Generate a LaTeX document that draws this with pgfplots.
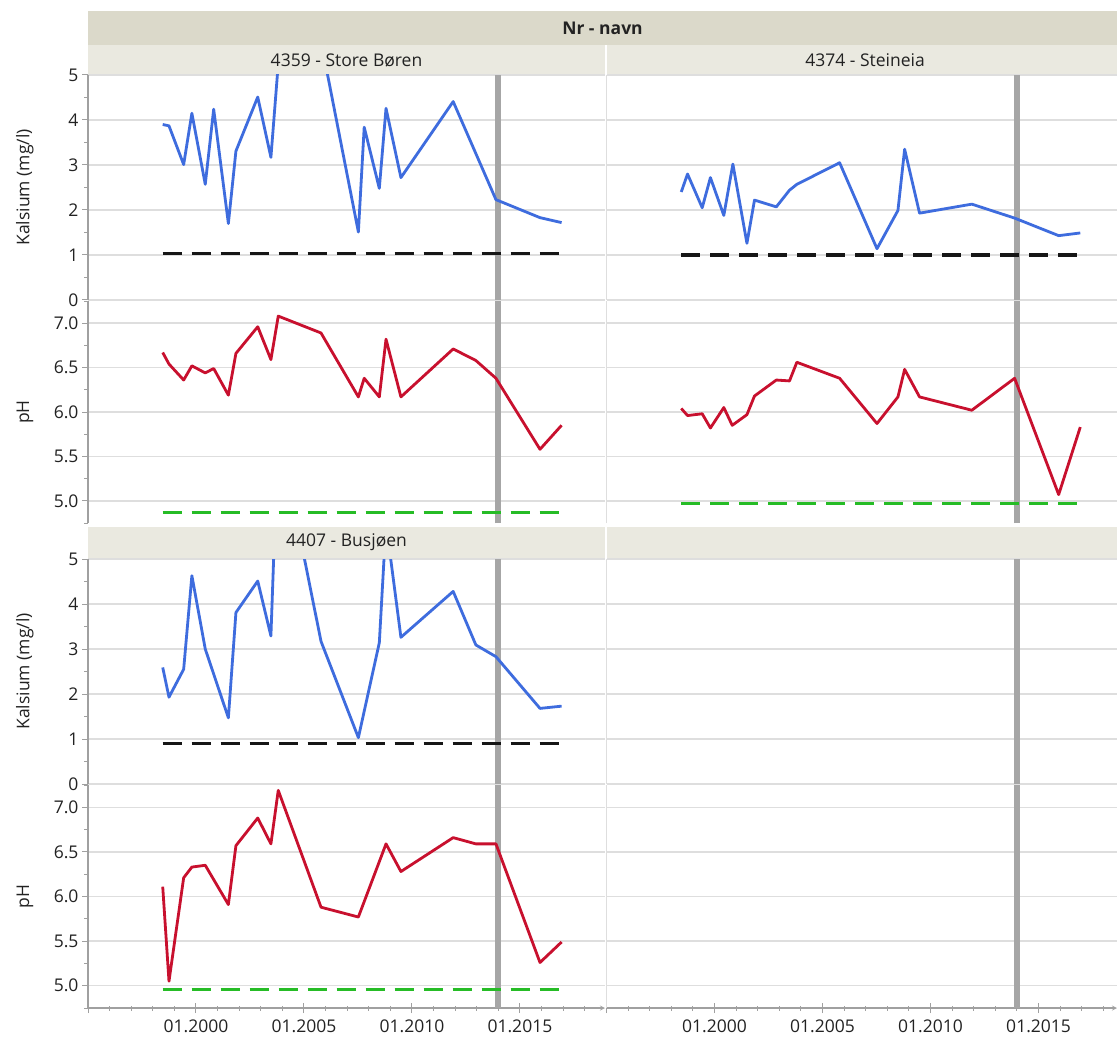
\documentclass[border=0pt]{standalone}
\usepackage{fontspec}
\setmainfont{Open Sans}
\usepackage{pgfplots}
\usepackage{pgfplotstable}
\pgfplotsset{compat=1.18}

\definecolor{cablue}{RGB}{62,108,222}
\definecolor{phred}{RGB}{200,16,46}
\definecolor{limgreen}{RGB}{38,188,38}
\definecolor{limblack}{RGB}{22,22,22}
\definecolor{markgray}{RGB}{166,166,166}
\definecolor{gridgray}{RGB}{222,222,222}
\definecolor{axisgray}{RGB}{160,160,160}
\definecolor{bandA}{RGB}{219,217,202}
\definecolor{bandB}{RGB}{234,233,224}
\definecolor{txt}{RGB}{34,34,34}

% 4359 - Store Boren
\pgfplotstableread{
year ca
1998.46 3.90
1998.75 3.87
1999.43 3.01
1999.81 4.15
2000.43 2.57
2000.82 4.24
2001.50 1.70
2001.85 3.31
2002.86 4.51
2003.47 3.17
2003.81 5.25
2005.79 5.75
2007.52 1.51
2007.79 3.84
2008.49 2.48
2008.80 4.26
2009.49 2.72
2011.91 4.41
2013.89 2.23
2015.93 1.83
2016.93 1.72
}\caA
\pgfplotstableread{
year ph
1998.46 6.67
1998.75 6.54
1999.43 6.36
1999.81 6.52
2000.43 6.44
2000.82 6.49
2001.50 6.19
2001.85 6.66
2002.86 6.96
2003.47 6.59
2003.81 7.08
2005.79 6.89
2007.52 6.17
2007.79 6.38
2008.49 6.17
2008.80 6.82
2009.49 6.17
2011.91 6.71
2012.96 6.58
2013.89 6.38
2015.93 5.58
2016.93 5.85
}\phA
% 4374 - Steineia
\pgfplotstableread{
year ca
1998.46 2.40
1998.75 2.80
1999.43 2.05
1999.81 2.72
2000.43 1.88
2000.85 3.02
2001.50 1.26
2001.85 2.22
2002.86 2.07
2003.47 2.44
2003.81 2.57
2005.79 3.05
2007.52 1.14
2008.49 1.99
2008.80 3.35
2009.49 1.93
2011.91 2.13
2013.89 1.82
2015.93 1.43
2016.93 1.49
}\caB
\pgfplotstableread{
year ph
1998.46 6.04
1998.75 5.96
1999.43 5.98
1999.81 5.82
2000.43 6.05
2000.82 5.85
2001.50 5.97
2001.85 6.18
2002.86 6.36
2003.47 6.35
2003.81 6.56
2005.79 6.38
2007.52 5.87
2008.49 6.17
2008.80 6.48
2009.49 6.17
2011.91 6.02
2013.89 6.38
2015.93 5.07
2016.93 5.83
}\phB
% 4407 - Busjoen
\pgfplotstableread{
year ca
1998.46 2.59
1998.75 1.93
1999.43 2.55
1999.81 4.63
2000.43 3.00
2001.50 1.47
2001.85 3.81
2002.86 4.51
2003.47 3.29
2003.81 7.90
2005.79 3.17
2007.52 1.03
2008.49 3.14
2008.80 5.80
2009.49 3.26
2011.91 4.28
2012.96 3.09
2013.89 2.83
2015.93 1.68
2016.93 1.73
}\caC
\pgfplotstableread{
year ph
1998.46 6.11
1998.75 5.05
1999.43 6.21
1999.81 6.33
2000.43 6.35
2001.50 5.91
2001.85 6.57
2002.86 6.88
2003.47 6.59
2003.81 7.19
2005.79 5.88
2007.52 5.77
2008.80 6.59
2009.49 6.28
2011.91 6.66
2012.96 6.59
2013.89 6.59
2015.93 5.26
2016.93 5.49
}\phC

\pgfplotsset{
  panel/.style={
    scale only axis, xmin=1995, clip=true,
    axis y line=left,
    axis line style={draw=axisgray, line width=1.2pt, -},
    tick align=outside, tick style={draw=axisgray, line width=1pt},
    major tick length=6pt, minor tick length=4pt,
    ymajorgrids, major grid style={draw=gridgray, line width=1.5pt},
    font=\fontsize{17.5}{20}\selectfont,
    tick label style={text=txt, font=\fontsize{17.5}{20}\selectfont},
    label style={text=txt, font=\fontsize{17.5}{20}\selectfont},
    /pgf/number format/assume math mode=true,
    ylabel style={at={(axis description cs:-0.122,0.5)}, anchor=center},
  },
  nox/.style={axis x line=none, xtick=\empty},
  ca/.style={ymin=0, ymax=5, ytick={0,1,2,3,4,5},
    minor ytick={0.5,1.5,2.5,3.5,4.5}, height=225pt},
  ph/.style={ymin=4.75, ymax=7.25, ytick={5,5.5,6,6.5,7},
    minor ytick={4.75,5.25,5.75,6.25,6.75,7.25},
    yticklabel style={/pgf/number format/.cd, fixed, fixed zerofill, precision=1}},
  leftcol/.style={width=517pt, xmax=2018.94},
  rightcol/.style={width=510.5pt, xmax=2018.63, yticklabels={},
    ytick style={/pgfplots/major tick length=0pt, /pgfplots/minor tick length=0pt},
    y axis line style={draw=gridgray, line width=1.5pt}},
  bottomx/.style={axis x line=bottom,
    xtick={1995,2000,2005,2010,2015},
    xticklabels={,01.2000,01.2005,01.2010,01.2015},
    minor xtick={1996,1997,1998,1999,2001,2002,2003,2004,2006,2007,2008,2009,2011,2012,2013,2014,2016,2017,2018},
    xtick style={/pgfplots/major tick length=10pt, /pgfplots/minor tick length=5pt},
    xticklabel style={yshift=-5pt},
    x axis line style={draw=axisgray, line width=1.2pt}},
  caline/.style={cablue, line width=2.8pt, line join=round},
  phline/.style={phred, line width=2.8pt, line join=round},
  calim/.style={limblack, line width=3.5pt, dash pattern=on 19pt off 10pt},
  phlim/.style={limgreen, line width=3.5pt, dash pattern=on 19pt off 10pt},
  mark2014/.style={markgray, line width=6pt},
}

\begin{document}
\begin{tikzpicture}
\useasboundingbox (0,0) rectangle (1117pt,-1049pt);
\fill[white] (0,0) rectangle (1117pt,-1049pt);

% facet header bands
\fill[bandA] (88pt,-11pt) rectangle (1117pt,-45pt);
\fill[bandB] (88pt,-45pt) rectangle (1117pt,-75pt);
\fill[white] (605pt,-45pt) rectangle (607pt,-75pt);
\fill[bandB] (88pt,-527pt) rectangle (1117pt,-558pt);
\fill[white] (605pt,-527pt) rectangle (607pt,-558pt);
\begin{scope}[font=\fontsize{17.5}{20}\selectfont, text=txt]
\node[font=\fontsize{17.5}{20}\selectfont\bfseries] at (602.5pt,-28pt) {Nr - navn};
\node at (346.5pt,-60pt) {4359 - Store Børen};
\node at (865pt,-60pt) {4374 - Steineia};
\node at (346.5pt,-542.5pt) {4407 - Busjøen};
\end{scope}

% ---- row 1, left: 4359 ----
\begin{axis}[panel, nox, ca, leftcol, at={(88pt,-75pt)}, anchor=north west,
  ylabel={Kalsium (mg/l)}]
\addplot[mark2014] coordinates {(2014,0) (2014,5)};
\addplot[calim] coordinates {(1998.46,1.03) (2016.93,1.03)};
\addplot[caline] table[x=year, y=ca] {\caA};
\end{axis}
\begin{axis}[panel, nox, ph, leftcol, height=222pt, at={(88pt,-301pt)}, anchor=north west,
  ylabel={pH}]
\addplot[mark2014] coordinates {(2014,4.75) (2014,7.25)};
\addplot[phlim] coordinates {(1998.46,4.87) (2016.93,4.87)};
\addplot[phline] table[x=year, y=ph] {\phA};
\end{axis}

% ---- row 1, right: 4374 ----
\begin{axis}[panel, nox, ca, rightcol, at={(606.5pt,-75pt)}, anchor=north west]
\addplot[mark2014] coordinates {(2014,0) (2014,5)};
\addplot[calim] coordinates {(1998.46,1.00) (2016.93,1.00)};
\addplot[caline] table[x=year, y=ca] {\caB};
\end{axis}
\begin{axis}[panel, nox, ph, rightcol, height=222pt, at={(606.5pt,-301pt)}, anchor=north west]
\addplot[mark2014] coordinates {(2014,4.75) (2014,7.25)};
\addplot[phlim] coordinates {(1998.46,4.97) (2016.93,4.97)};
\addplot[phline] table[x=year, y=ph] {\phB};
\end{axis}

% ---- row 2, left: 4407 ----
\begin{axis}[panel, nox, ca, leftcol, at={(88pt,-559pt)}, anchor=north west,
  ylabel={Kalsium (mg/l)}]
\addplot[mark2014] coordinates {(2014,0) (2014,5)};
\addplot[calim] coordinates {(1998.46,0.90) (2016.93,0.90)};
\addplot[caline] table[x=year, y=ca] {\caC};
\end{axis}
\begin{axis}[panel, ph, leftcol, bottomx, height=223pt, at={(88pt,-785pt)}, anchor=north west,
  ylabel={pH}]
\addplot[mark2014] coordinates {(2014,4.75) (2014,7.25)};
\addplot[phlim] coordinates {(1998.46,4.96) (2016.93,4.96)};
\addplot[phline] table[x=year, y=ph] {\phC};
\end{axis}

% ---- row 2, right: empty ----
\begin{axis}[panel, nox, ca, rightcol, at={(606.5pt,-559pt)}, anchor=north west]
\addplot[mark2014] coordinates {(2014,0) (2014,5)};
\end{axis}
\begin{axis}[panel, ph, rightcol, bottomx, height=223pt, at={(606.5pt,-785pt)}, anchor=north west]
\addplot[mark2014] coordinates {(2014,4.75) (2014,7.25)};
\end{axis}
\end{tikzpicture}
\end{document}
